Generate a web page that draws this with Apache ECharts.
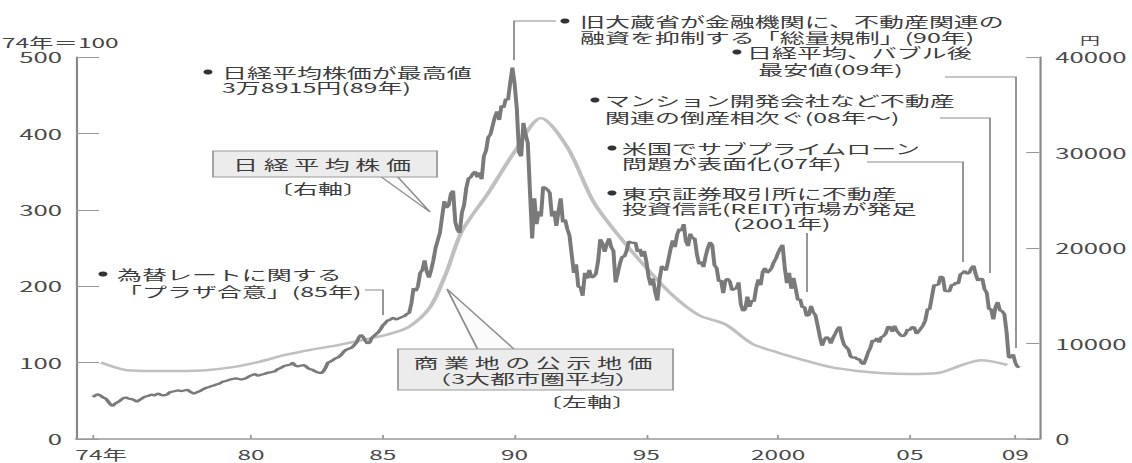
<!DOCTYPE html>
<html lang="ja">
<head>
<meta charset="utf-8">
<title>日経平均株価と商業地の公示地価</title>
<script src="https://cdn.jsdelivr.net/npm/echarts@6.0.0/dist/echarts.min.js"></script>
<style>
html, body { margin: 0; padding: 0; background: #fff; }
#wrap { width: 1132px; height: 463px; overflow: hidden; }
#chart { width: 625px; height: 463px; transform-origin: 0 0; }
</style>
</head>
<body>
<div id="wrap"><div id="chart"></div></div>
<script>
// 日経平均株価（月末値、円）1974年1月から
var nikkeiStartYear = 1974;
var nikkei1970s = [
	4400, 4550, 4700, 4600, 4450, 4300, 4200, 3900, 3600, 3450, 3700, 3820, // 74
	3950, 4150, 4300, 4350, 4250, 4200, 4150, 4050, 3900, 4050, 4200, 4350, // 75
	4450, 4500, 4600, 4650, 4550, 4700, 4750, 4600, 4550, 4600, 4700, 4900, // 76
	4950, 5000, 5050, 5100, 5000, 5050, 5100, 5150, 5000, 4850, 4750, 4850, // 77
	4950, 5050, 5200, 5300, 5400, 5450, 5550, 5600, 5700, 5750, 5850, 6000, // 78
	6050, 6100, 6200, 6250, 6300, 6350, 6300, 6250, 6250, 6300, 6400, 6550  // 79
];
var nikkei1980s = [
	6650, 6750, 6800, 6600, 6700, 6750, 6800, 6900, 6950, 7000, 7050, 7100,
	7300, 7400, 7500, 7650, 7700, 7750, 7800, 8000, 7700, 7600, 7650, 7700,
	7750, 7600, 7400, 7300, 7250, 7100, 7000, 6950, 6900, 7100, 7500, 8000,
	8100, 8200, 8400, 8500, 8600, 8800, 9100, 9300, 9400, 9500, 9600, 9850,
	10100, 10600, 10900, 10700, 10300, 10000, 10100, 10600, 10800, 11000, 11200, 11500,
	11900, 12100, 12400, 12450, 12600, 12700, 12500, 12600, 12700, 12800, 12900, 13100,
	13200, 14200, 15800, 15500, 16000, 17400, 17700, 18700, 17500, 16900, 17700, 18700,
	20000, 20800, 21600, 23300, 24900, 24200, 24500, 25700, 26000, 22700, 21900, 21600,
	23700, 24500, 26300, 27300, 27400, 27800, 28000, 27400, 27900, 27200, 29600, 30200,
	31600, 31900, 32800, 33700, 34300, 33400, 34900, 34700, 35600, 35500, 37300, 38900
];
var nikkei1990s = [
	37200, 34600, 30000, 29600, 33100, 31900, 31000, 25900, 21000, 25200, 22500, 23850,
	23300, 26400, 26300, 26100, 25800, 23300, 23900, 22300, 23900, 25200, 22700, 22980,
	22000, 21300, 19300, 17400, 18300, 15950, 15900, 15000, 17400, 16800, 17700, 16900,
	17000, 17300, 18600, 20900, 20500, 19600, 20400, 21000, 20100, 19700, 16400, 17400,
	18400, 19100, 19100, 19700, 20700, 20600, 20500, 20600, 19600, 19900, 19100, 19700,
	18600, 17000, 16100, 16800, 15400, 14500, 16700, 18100, 17900, 17650, 18750, 19870,
	20800, 20100, 21400, 22000, 21800, 22500, 20700, 20200, 21500, 21000, 21000, 19360,
	18300, 18600, 18000, 19150, 20000, 20600, 20300, 18200, 17900, 16500, 16600, 15260,
	16600, 16800, 16500, 15600, 15700, 15800, 16400, 14100, 13400, 13600, 14900, 13840,
	14500, 14400, 15800, 16700, 16100, 17500, 17900, 17400, 17600, 17900, 18500, 18900
];
var nikkei2000s = [
	19500, 19960, 20340, 17970, 16330, 17410, 15730, 16860, 15750, 14540, 14650, 13790,
	13840, 12880, 12990, 13930, 13260, 12970, 11860, 10710, 9770, 10370, 10700, 10540,
	9990, 10590, 11020, 11490, 11760, 10620, 9880, 9620, 9380, 8640, 8500, 8580,
	8340, 8360, 7970, 7830, 8420, 9080, 9560, 10340, 10220, 10560, 10100, 10680,
	10780, 11040, 11720, 11760, 11240, 11860, 11330, 11080, 10820, 10770, 11000, 11490,
	11390, 11740, 11670, 11010, 11280, 11580, 11900, 12410, 13570, 13610, 14870, 16110,
	16100, 16200, 17060, 16900, 15470, 15500, 15460, 16140, 16130, 16400, 16270, 17230,
	17380, 17600, 17290, 17400, 17880, 18140, 17250, 16570, 16790, 16740, 15680, 15310,
	13590, 13600, 12530, 13850, 14340, 13480, 13380, 13070, 11260, 8580, 8510, 8860,
	7990, 7570, 7500
];

// 商業地の公示地価（3大都市圏平均、74年=100）
var landYears = [1974.3, 1975.3, 1976.3, 1977.3, 1978.3, 1979.3, 1980.3, 1981.3, 1982.3, 1983.3,
	1984.3, 1985.3, 1986.0, 1986.8, 1987.4, 1988.0, 1989.0, 1990.0, 1991.0, 1992.0,
	1993.0, 1994.0, 1995.0, 1996.0, 1997.0, 1998.0, 1999.0, 2000.0, 2001.0, 2002.0,
	2003.0, 2004.0, 2005.0, 2006.0, 2007.0, 2007.7, 2008.7];
var landValues = [100, 90, 89, 89, 90, 94, 101, 110, 117, 123,
	130, 138, 147, 173, 217, 272, 322, 376, 420, 382,
	310, 264, 224, 188, 162, 150, 125, 113, 103, 94,
	89, 86, 85, 86, 97, 103, 97];

var xTickValues = [1974, 1980, 1985, 1990, 1995, 2000, 2005, 2009];
var xTickLabels = ['74年', '80', '85', '90', '95', '2000', '05', '09'];

// 元図は横に引き伸ばされているので、狭い幅で描いて横に拡大する
var W = 625;
var SX = 1132 / W;
var chartDom = document.getElementById('chart');
chartDom.style.transform = 'scaleX(' + SX + ')';
function ux(x) { return x / SX; }

var FONT = '"Noto Sans CJK JP", "Noto Sans", sans-serif';

var nikkeiData = [];
nikkei1970s.concat(nikkei1980s, nikkei1990s, nikkei2000s).forEach(function (v, i) {
	nikkeiData.push([nikkeiStartYear + i / 12, v]);
});
var landData = landYears.map(function (y, i) { return [y, landValues[i]]; });

// 注記用（y は1行目の中心、pitch は行送り）
function note(x, y, lines, pitch, extra) {
	pitch = pitch || 15;
	var style = {
		text: lines.join('\n'), fill: '#3c3c3c', fontSize: 13.8, fontFamily: FONT,
		align: 'left', verticalAlign: 'middle', lineHeight: pitch
	};
	for (var k in extra) style[k] = extra[k];
	return { type: 'text', x: ux(x), y: y + (lines.length - 1) * pitch / 2, z: 20, style: style };
}
function dot(x, y) {
	return { type: 'circle', z: 20, shape: { cx: ux(x), cy: y, r: 2.5 }, style: { fill: '#333' } };
}
function leader(pts) {
	return {
		type: 'polyline', z: 20,
		shape: { points: pts.map(function (p) { return [ux(p[0]), p[1]]; }) },
		style: { stroke: '#8c8c8c', lineWidth: 1, fill: null }
	};
}
function box(x1, y1, x2, y2) {
	return {
		type: 'rect', z: 12,
		shape: { x: ux(x1), y: y1, width: ux(x2) - ux(x1), height: y2 - y1 },
		style: { fill: '#ececec', stroke: '#9a9a9a', lineWidth: 1 }
	};
}
function wedge(pts) {
	return {
		type: 'polygon', z: 11,
		shape: { points: pts.map(function (p) { return [ux(p[0]), p[1]]; }) },
		style: { fill: '#fbfbfb', stroke: '#8c8c8c', lineWidth: 1 }
	};
}

var graphics = [
	note(2, 42, ['74年＝100'], 15, { fontSize: 13.5, fill: '#444' }),
	note(1090, 40, ['円'], 12, { fontSize: 11, fill: '#444', align: 'center' }),

	dot(208, 72),
	note(222, 72, ['日経平均株価が最高値', '3万8915円(89年)'], 15),

	leader([[514, 60], [514, 21], [556, 21]]),
	dot(565, 21),
	note(580, 21, ['旧大蔵省が金融機関に、不動産関連の', '融資を抑制する「総量規制」(90年)'], 16),

	dot(737, 52),
	note(747, 52, ['日経平均、バブル後', '  最安値(09年)'], 17),
	leader([[945, 77], [1016, 77], [1016, 348]]),

	dot(595, 100),
	note(605, 100, ['マンション開発会社など不動産', '関連の倒産相次ぐ(08年〜)'], 17),
	leader([[940, 118], [990, 118], [990, 273]]),

	dot(612, 148),
	note(622, 148, ['米国でサブプライムローン', '問題が表面化(07年)'], 15),
	leader([[867, 162], [963, 162], [963, 262]]),

	dot(612, 193),
	note(622, 193, ['東京証券取引所に不動産', '投資信託(REIT)市場が発足', '　　　　  (2001年)'], 15),
	leader([[807, 233], [807, 292]]),

	dot(103, 274),
	note(117, 274, ['為替レートに関する', '「プラザ合意」(85年)'], 17),
	leader([[365, 290], [383, 290], [383, 315]]),

	wedge([[380, 176], [430, 212], [397, 176]]),
	box(213, 151, 437, 177),
	note(322, 164, ['日 経 平 均 株 価'], 15, { align: 'center' }),
	note(318, 188, ['〔右軸〕'], 15, { align: 'center' }),

	wedge([[478, 350], [447, 289], [515, 350]]),
	box(398, 349, 673, 390),
	note(533, 362, ['商 業 地 の 公 示 地 価', '（3大都市圏平均）'], 16, { align: 'center' }),
	note(587, 401, ['〔左軸〕'], 15, { align: 'center' })
];

var chart = echarts.init(chartDom, null, { renderer: 'svg' });
var option = {
	backgroundColor: '#fff',
	animation: false,
	textStyle: { fontFamily: FONT },
	grid: { left: ux(76), right: W - ux(1041), top: 57, bottom: 24 },
	xAxis: {
		type: 'value',
		min: 1973.356,
		max: 2009.909,
		axisLine: { onZero: false, lineStyle: { color: '#999', width: 1.5 } },
		axisTick: { inside: true, length: 4, customValues: xTickValues, lineStyle: { color: '#999' } },
		axisLabel: {
			customValues: xTickValues,
			margin: 8,
			fontSize: 13.5,
			color: '#4a4a4a',
			fontFamily: FONT,
			formatter: function (v) {
				var i = xTickValues.indexOf(Math.round(v));
				var s = i >= 0 ? xTickLabels[i] : '';
				return i === 0 ? '{pad|年}' + s : s;
			},
			rich: { pad: { color: 'rgba(0,0,0,0)', fontSize: 9, fontFamily: FONT } }
		},
		splitLine: { show: false }
	},
	yAxis: [
		{
			type: 'value', position: 'left', min: 0, max: 500, interval: 100,
			axisLine: { show: true, lineStyle: { color: '#888', width: 1.2 } },
			axisTick: { show: true, inside: true, length: ux(23), lineStyle: { color: '#999', width: 1 } },
			axisLabel: { margin: ux(14), fontSize: 14.2, color: '#4a4a4a', fontFamily: FONT,
				formatter: function (v) { return String(v); } },
			splitLine: { show: false }
		},
		{
			type: 'value', position: 'right', min: 0, max: 40000, interval: 10000,
			axisLine: { show: true, lineStyle: { color: '#888', width: 1.2 } },
			axisTick: { show: true, inside: true, length: ux(13), lineStyle: { color: '#999', width: 1 } },
			axisLabel: { margin: ux(16), fontSize: 14.2, color: '#4a4a4a', fontFamily: FONT,
				formatter: function (v) { return String(v); } },
			splitLine: { show: false }
		}
	],
	series: [
		{
			name: '商業地の公示地価',
			type: 'line',
			yAxisIndex: 0,
			data: landData,
			smooth: 0.3,
			showSymbol: false,
			lineStyle: { color: '#c0c0c0', width: 2.4 },
			z: 2
		},
		{
			name: '日経平均株価',
			type: 'line',
			yAxisIndex: 1,
			data: nikkeiData,
			showSymbol: false,
			lineStyle: { color: '#7a7a7a', width: 2.2 },
			z: 3
		}
	],
	graphic: graphics
};
chart.setOption(option);
</script>
</body>
</html>
